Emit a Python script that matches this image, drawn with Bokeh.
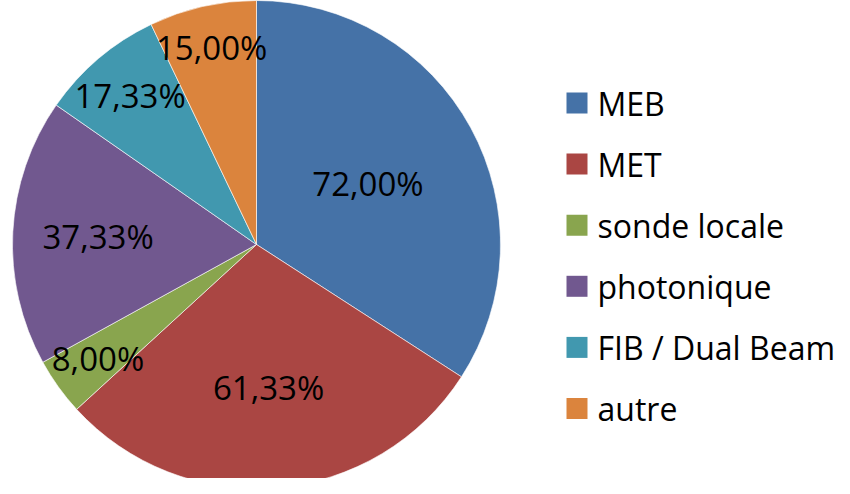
import math
from bokeh.plotting import figure
from bokeh.models import Range1d, ColumnDataSource
from bokeh.core.properties import value
from bokeh.embed import file_html
from bokeh.resources import INLINE

categories = ["MEB", "MET", "sonde locale", "photonique", "FIB / Dual Beam", "autre"]
values = [72.00, 61.33, 8.00, 37.33, 17.33, 15.00]
labels = ["72,00%", "61,33%", "8,00%", "37,33%", "17,33%", "15,00%"]
colors = ["#4572A7", "#AA4643", "#89A54E", "#71588F", "#4198AF", "#DB843D"]
label_radius = [0.52, 0.59, 0.80, 0.65, 0.80, 0.83]

W, H = 834, 478
p = figure(width=W, height=H, output_backend="svg", toolbar_location=None,
           x_range=Range1d(8, 8 + W), y_range=Range1d(494 - 8 - H, 494 - 8),
           min_border=0, outline_line_color=None)
p.axis.visible = False
p.grid.visible = False

cx, cy, R = 264, 242, 244
total = sum(values)
starts, ends, lx, ly = [], [], [], []
cum = 0.0
for v, rf in zip(values, label_radius):
    a0 = math.pi / 2 - cum / total * 2 * math.pi
    cum += v
    a1 = math.pi / 2 - cum / total * 2 * math.pi
    starts.append(a0)
    ends.append(a1)
    mid = (a0 + a1) / 2
    lx.append(cx + rf * R * math.cos(mid))
    ly.append(cy + rf * R * math.sin(mid))

src = ColumnDataSource(dict(start=starts, end=ends, color=colors, lx=lx, ly=ly, label=labels))
p.wedge(x=cx, y=cy, radius=R, start_angle="start", end_angle="end", direction="clock",
        fill_color="color", line_color="white", line_width=0.6, source=src)
p.text(x="lx", y="ly", text="label", source=src, text_align="center", text_baseline="middle",
       text_font=value("Open Sans"), text_font_size="33px", text_color="black")

# legend
leg_x, leg_top, leg_step, sq = 584.5, 494 - 110.5, 61.1, 21
ly2 = [leg_top - i * leg_step for i in range(len(categories))]
lsrc = ColumnDataSource(dict(y=ly2, color=colors, name=categories, tx=[605] * len(categories)))
p.rect(x=leg_x, y="y", width=sq, height=sq, fill_color="color", line_color=None, source=lsrc)
p.text(x="tx", y="y", text="name", source=lsrc, text_align="left", text_baseline="middle",
       text_font=value("Open Sans"), text_font_size="32px", text_color="black")

open("out.html", "w").write(file_html(p, INLINE))
